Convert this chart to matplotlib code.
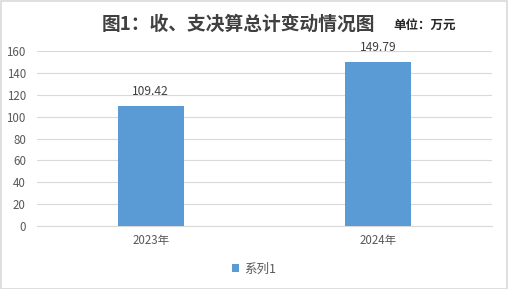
import matplotlib
matplotlib.use("Agg")
import matplotlib.pyplot as plt
from matplotlib.patches import Rectangle

plt.rcParams['font.family'] = ['Noto Sans CJK SC', 'DejaVu Sans']

categories = ['2023年', '2024年']
values = [109.42, 149.79]
series_name = '系列1'
yticks = [0, 20, 40, 60, 80, 100, 120, 140, 160]

W, H = 508, 289
fig = plt.figure(figsize=(W / 100, H / 100), dpi=100)
fig.patches.append(Rectangle((0.5 / W, 0.5 / H), 1 - 1.5 / W, 1 - 1.5 / H,
                             transform=fig.transFigure, fill=False,
                             edgecolor='#d9d9d9', linewidth=1.2))

ax = fig.add_axes([37 / W, (H - 226) / H, 455 / W, 175 / H])
x = range(len(categories))
bars = ax.bar(x, values, width=0.29, color='#5b9bd5', label=series_name, zorder=3)
ax.set_xlim(-0.5, len(categories) - 0.5)
ax.set_ylim(0, 160)
ax.set_yticks(yticks)
ax.set_xticks(list(x))
ax.set_xticklabels(categories)
ax.grid(axis='y', color='#d9d9d9', linewidth=0.8, zorder=0)
for s in ['top', 'right', 'left']:
    ax.spines[s].set_visible(False)
ax.spines['bottom'].set_color('#d9d9d9')
ax.tick_params(axis='both', length=0, labelsize=8.3, colors='#595959')
ax.tick_params(axis='y', pad=8)
ax.tick_params(axis='x', pad=6)

for b, v in zip(bars, values):
    ax.annotate(f'{v:.2f}', (b.get_x() + b.get_width() / 2, v),
                xytext=(0, 6), textcoords='offset points', ha='center',
                va='bottom', fontsize=8.7, color='#404040')

fig.text(238 / W, 1 - 24 / H, '图1：收、支决算总计变动情况图', ha='center',
         va='center', fontsize=13.5, fontweight='bold', color='#404040')
fig.text(425 / W, 1 - 25 / H, '单位：万元', ha='center', va='center',
         fontsize=9, fontweight='bold', color='#262626')

fig.legend(loc='center', bbox_to_anchor=(254 / W, 1 - 269 / H), frameon=False,
           fontsize=9, handlelength=0.6, handleheight=0.6, handletextpad=0.4,
           labelcolor='#595959')

fig.savefig('out.png', dpi=100)
